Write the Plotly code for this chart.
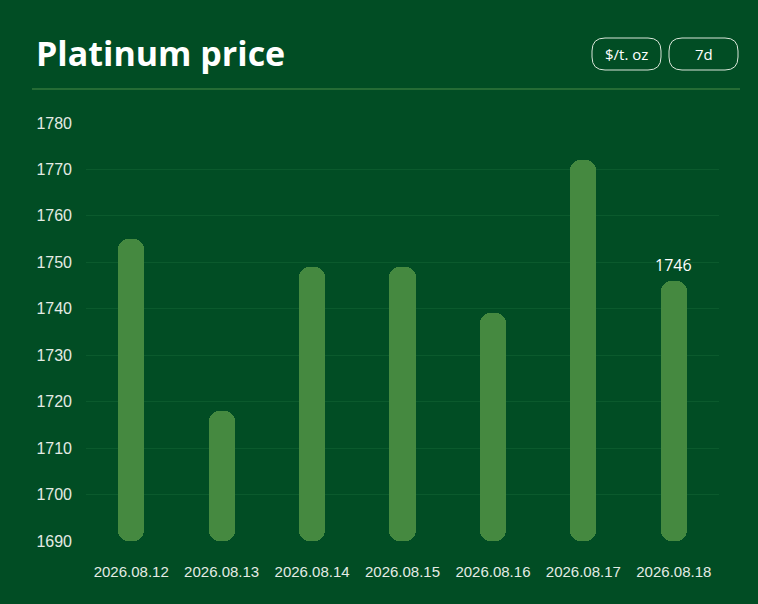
import plotly.graph_objects as go

dates = ["2026.08.12", "2026.08.13", "2026.08.14", "2026.08.15",
         "2026.08.16", "2026.08.17", "2026.08.18"]
prices = [1755, 1718, 1749, 1749, 1739, 1772, 1746]
y_ticks = [1690, 1700, 1710, 1720, 1730, 1740, 1750, 1760, 1770, 1780]
title_text = "Platinum price"
unit_label = "$/t. oz"
period_label = "7d"

BG = "#014d24"
BAR = "#458940"
FLOOR = y_ticks[0]

# plot-area geometry in px (for converting page px to paper coords)
L, R, T, B = 86, 39, 123, 63
W_PX, H_PX = 758, 604
PW = W_PX - L - R
PH = H_PX - T - B


def px_x(px):
    return (px - L) / PW


def px_y(py):
    return (H_PX - B - py) / PH


def rounded_rect(x0, y0, x1, y1, r):
    X0, X1 = px_x(x0), px_x(x1)
    Y0, Y1 = px_y(y1), px_y(y0)  # Y0 bottom, Y1 top
    rx, ry = r / PW, r / PH
    return (f"M {X0+rx},{Y1} L {X1-rx},{Y1} Q {X1},{Y1} {X1},{Y1-ry} "
            f"L {X1},{Y0+ry} Q {X1},{Y0} {X1-rx},{Y0} L {X0+rx},{Y0} "
            f"Q {X0},{Y0} {X0},{Y0+ry} L {X0},{Y1-ry} Q {X0},{Y1} {X0+rx},{Y1} Z")


heights = [p - FLOOR for p in prices]

fig = go.Figure()
# upper part: rounded at top
fig.add_trace(go.Bar(x=dates, y=heights, base=[FLOOR] * len(prices),
                     marker=dict(color=BAR, cornerradius=10, line=dict(width=0)),
                     width=0.29, hoverinfo="skip", showlegend=False))
# lower part: negative bar from value down to floor, rounded at bottom
fig.add_trace(go.Bar(x=dates, y=[-h for h in heights], base=prices,
                     marker=dict(color=BAR, cornerradius=10, line=dict(width=0)),
                     width=0.29, hoverinfo="skip", showlegend=False))

shapes = [
    dict(type="line", xref="paper", yref="paper",
         x0=px_x(32), x1=px_x(740), y0=px_y(89), y1=px_y(89),
         line=dict(color="#4b8c46", width=1)),
    dict(type="path", xref="paper", yref="paper",
         path=rounded_rect(592, 38, 661, 70, 13),
         line=dict(color="#d9e6d9", width=1)),
    dict(type="path", xref="paper", yref="paper",
         path=rounded_rect(669, 38, 738, 70, 13),
         line=dict(color="#d9e6d9", width=1)),
]

annotations = [
    dict(text=f"<b>{title_text}</b>", xref="paper", yref="paper",
         x=px_x(34), y=px_y(53), xanchor="left", yanchor="middle",
         showarrow=False, font=dict(family="Open Sans", size=34, color="white")),
    dict(text=unit_label, xref="paper", yref="paper",
         x=px_x(626.5), y=px_y(54), xanchor="center", yanchor="middle",
         showarrow=False, font=dict(family="Open Sans", size=15, color="white")),
    dict(text=period_label, xref="paper", yref="paper",
         x=px_x(703.5), y=px_y(54), xanchor="center", yanchor="middle",
         showarrow=False, font=dict(family="Open Sans", size=15, color="white")),
    dict(text=str(prices[-1]), x=dates[-1], y=prices[-1], xref="x", yref="y",
         yanchor="bottom", yshift=3, showarrow=False,
         font=dict(family="Open Sans", size=16, color="white")),
]

fig.update_layout(
    width=W_PX, height=H_PX,
    margin=dict(l=L, r=R, t=T, b=B, pad=0),
    paper_bgcolor=BG, plot_bgcolor=BG,
    barmode="overlay", bargap=0,
    shapes=shapes, annotations=annotations,
    font=dict(family="Liberation Sans", color="#e4ebe4"),
)
fig.update_xaxes(type="category", showgrid=False, zeroline=False, showline=False,
                 ticks="", ticklabelstandoff=20,
                 tickfont=dict(family="Liberation Sans", size=15, color="#e4ebe4"))
fig.update_yaxes(range=[y_ticks[0], y_ticks[-1]], tickvals=y_ticks,
                 showgrid=True, gridcolor="#0b5a2d", gridwidth=1,
                 zeroline=False, showline=False, ticks="", ticklabelstandoff=13,
                 tickfont=dict(family="Liberation Sans", size=16, color="#e4ebe4"))
for tr in fig.data:
    tr.cliponaxis = False

fig.write_html("out.html",
               config={"displayModeBar": False},
               post_script="document.body.style.margin='0';"
                           "document.body.style.background='" + BG + "';")
